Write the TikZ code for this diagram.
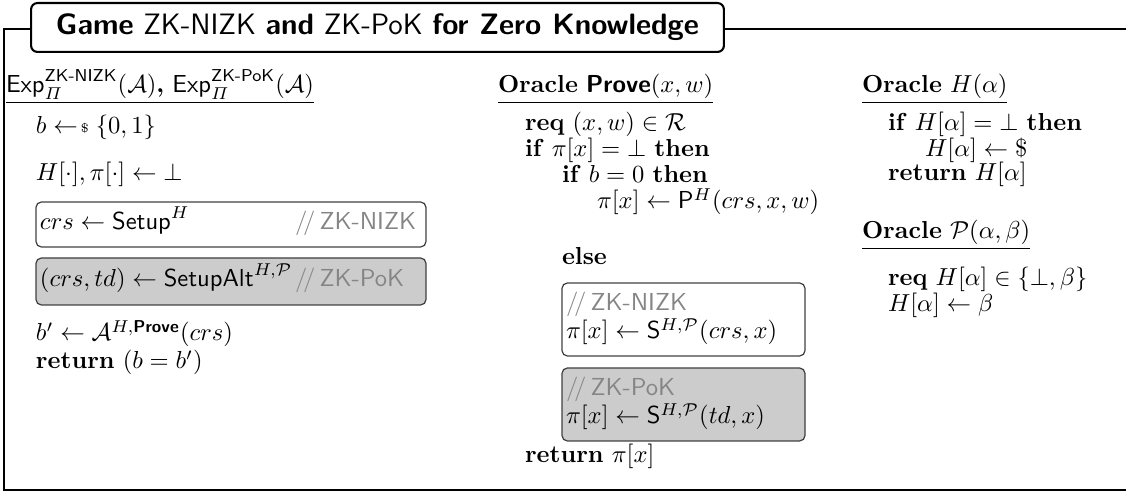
\documentclass[tikz,border=0pt]{standalone}
\usepackage{amsmath}
\definecolor{cmtgray}{gray}{0.52}
\newcommand{\smp}{\mathrel{\leftarrow\!\raisebox{0.15ex}{$\scriptscriptstyle\$$}}}
\newcommand{\cmt}[1]{{\color{cmtgray}$/\!/$\,\textsf{#1}}}
\newcommand{\kw}[1]{\textbf{#1}}
\newcommand{\prv}{\textsf{\bfseries Prove}}
\begin{document}
\begin{tikzpicture}[x=0.407pt,y=-0.407pt,
  ln/.style={anchor=base west,inner sep=0pt,outer sep=0pt},
  ul/.style={line width=0.45pt},
  plainbox/.style={draw=black!75,line width=0.5pt,rounded corners=2.2pt},
  shadebox/.style={plainbox,fill=black!20},
  frame/.style={line width=0.55pt},
  titlebox/.style={draw,line width=0.85pt,rounded corners=2.6pt,fill=white,
    minimum width=282pt,minimum height=19.9pt,inner sep=0pt,
    font=\fontsize{12}{14.5}\selectfont\sffamily}]
\useasboundingbox (0,0) rectangle (1126,492);

% outer frame, open on the right
\draw[frame] (1126,29) -- (4,29) -- (4,490) -- (1126,490);

% title
\node[titlebox] (title) at (377.5,27.5)
  {\textbf{Game} ZK-NIZK \textbf{and} ZK-PoK \textbf{for Zero Knowledge}};

% ---------- experiment ----------
\node[ln] (h1) at (6,93)
  {$\mathsf{Exp}^{\textsf{ZK-NIZK}}_{\varPi}(\mathcal{A})$\textbf{,}
   $\mathsf{Exp}^{\textsf{ZK-PoK}}_{\varPi}(\mathcal{A})$};
\draw[ul] ([yshift=-4pt]h1.base west) -- ([yshift=-4pt]h1.base east);

\node[ln] (e1) at (36,134) {$b \smp \{0,1\}$};
\node[ln] (e2) at (36,181) {$H[\cdot], \pi[\cdot] \gets \bot$};

\draw[plainbox] (36,202) rectangle (426,247);
\node[ln] (e3) at (40,230) {$crs \gets \mathsf{Setup}^H$};
\node[ln] (e3c) at (295,230) {\cmt{ZK-NIZK}};

\draw[shadebox] (36,258) rectangle (426,305);
\node[ln] (e4) at (40,287) {$(crs,td) \gets \mathsf{SetupAlt}^{H,\mathcal{P}}$};
\node[ln] (e4c) at (295,287) {\cmt{ZK-PoK}};

\node[ln] (e5) at (36,341) {$b' \gets \mathcal{A}^{H,\prv}(crs)$};
\node[ln] (e6) at (36,369) {\kw{return} $(b = b')$};

% ---------- oracle Prove ----------
\node[ln] (h2) at (498,93) {\kw{Oracle} $\prv(x,w)$};
\draw[ul] ([yshift=-4pt]h2.base west) -- ([yshift=-4pt]h2.base east);

\node[ln] (p1) at (525,131) {\kw{req} $(x,w)\in\mathcal{R}$};
\node[ln] (p2) at (525,157) {\kw{if} $\pi[x]=\bot$ \kw{then}};
\node[ln] (p3) at (562,183) {\kw{if} $b=0$ \kw{then}};
\node[ln] (p4) at (597,209) {$\pi[x]\gets\mathsf{P}^H(crs,x,w)$};
\node[ln] (p5) at (562,265) {\kw{else}};

\draw[plainbox] (562,283) rectangle (805,356);
\node[ln] (p6c) at (566,311) {\cmt{ZK-NIZK}};
\node[ln] (p6) at (566,339) {$\pi[x]\gets\mathsf{S}^{H,\mathcal{P}}(crs,x)$};

\draw[shadebox] (562,368) rectangle (805,441);
\node[ln] (p7c) at (566,396) {\cmt{ZK-PoK}};
\node[ln] (p7) at (566,424) {$\pi[x]\gets\mathsf{S}^{H,\mathcal{P}}(td,x)$};

\node[ln] (p8) at (525,463) {\kw{return} $\pi[x]$};

% ---------- oracles H and P ----------
\node[ln] (h3) at (862,93) {\kw{Oracle} $H(\alpha)$};
\draw[ul] ([yshift=-4pt]h3.base west) -- ([yshift=-4pt]h3.base east);

\node[ln] (r1) at (888,131) {\kw{if} $H[\alpha]=\bot$ \kw{then}};
\node[ln] (r2) at (925,157) {$H[\alpha]\gets\$$};
\node[ln] (r3) at (888,181) {\kw{return} $H[\alpha]$};

\node[ln] (h4) at (862,239) {\kw{Oracle} $\mathcal{P}(\alpha,\beta)$};
\draw[ul] ([yshift=-4pt]h4.base west) -- ([yshift=-4pt]h4.base east);

\node[ln] (q1) at (888,286) {\kw{req} $H[\alpha]\in\{\bot,\beta\}$};
\node[ln] (q2) at (888,312) {$H[\alpha]\gets\beta$};
\end{tikzpicture}
\end{document}
